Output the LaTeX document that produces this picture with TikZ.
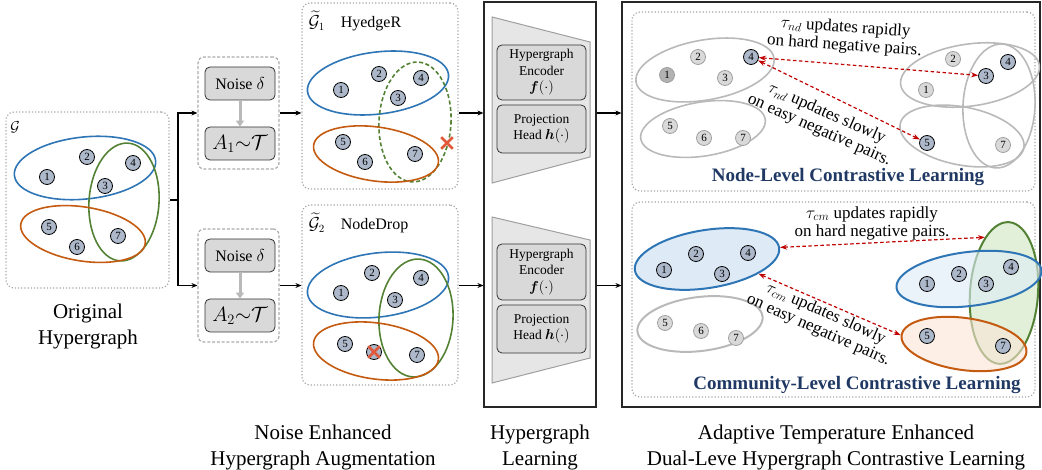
\documentclass[tikz,border=0pt]{standalone}
\usepackage{amsmath,amssymb}
\usepackage{fontspec}
\setmainfont{Liberation Serif}
\usetikzlibrary{arrows.meta,shapes.geometric,shapes.misc}
\definecolor{nb}{HTML}{ADB9CA}
\definecolor{eblue}{HTML}{2E75B6}
\definecolor{eorange}{HTML}{C55A11}
\definecolor{egreen}{HTML}{548235}
\definecolor{boxgray}{HTML}{D9D9D9}
\definecolor{trapf}{HTML}{E7E6E6}
\definecolor{navy}{HTML}{1F3864}
\definecolor{xred}{HTML}{E0593A}
\definecolor{arrred}{HTML}{C00000}
\definecolor{fblue}{HTML}{DEEBF7}
\definecolor{fgreen}{HTML}{E2F0D9}
\definecolor{forange}{HTML}{FBE5D6}
\begin{document}
\begin{tikzpicture}[x=1pt,y=-1pt,
  vn/.style={circle, draw=black, line width=0.8pt, fill=nb, inner sep=0pt, minimum size=15pt, font=\fontsize{11}{11}\selectfont},
  ln/.style={vn, draw=gray!75, fill=gray!30},
  dn/.style={vn, draw=gray!75, fill=gray!60},
  hyper/.style={ellipse, inner sep=0pt, line width=1.6pt},
  gh/.style={hyper, draw=gray!55},
  dotbox/.style={draw=gray!70, dotted, line width=1.2pt, rounded corners=8pt, inner sep=0pt},
  dashbox/.style={draw=gray!65, dash pattern=on 3pt off 1.8pt, line width=1.2pt, rounded corners=6pt, inner sep=0pt},
  ibox/.style={draw=black!80, fill=boxgray, rounded corners=5pt, line width=0.8pt, inner sep=0pt},
  solidbox/.style={draw=black!85, line width=1.2pt, inner sep=0pt},
  arr/.style={line width=1.4pt, -{Stealth[length=6pt,width=5pt]}},
  plainline/.style={line width=1.4pt},
  garr/.style={gray!55, line width=3pt, -{Triangle[length=6pt,width=8pt]}},
  rarr/.style={arrred, line width=1.2pt, dash pattern=on 3.5pt off 2.5pt, {Stealth[length=7pt,width=5pt]}-{Stealth[length=7pt,width=5pt]}},
  xm/.style={cross out, draw=xred, line width=2.6pt, minimum size=9pt, inner sep=0pt},
  captxt/.style={font=\fontsize{21}{26}\selectfont, align=center},
  notetxt/.style={font=\fontsize{17}{18}\selectfont, align=center, inner sep=0pt},
  ttl/.style={font=\fontsize{19}{22}\selectfont\bfseries, text=navy},
  innerbox/.style={ibox, font=\fontsize{13.5}{16.5}\selectfont, align=center, minimum width=89pt}
]
\useasboundingbox (0,0) rectangle (1042,470);

% ---------------- Original hypergraph
\node[dotbox, minimum width=163pt, minimum height=176pt] (obox) at (87.5,200) {};
\node[font=\fontsize{15}{15}\selectfont] (olab) at (15,127) {$\mathcal{G}$};
\node[hyper, draw=eblue, minimum width=142pt, minimum height=62pt, rotate=6] (oeb) at (85,168) {};
\node[hyper, draw=egreen, minimum width=70pt, minimum height=118pt, rotate=-4] (oeg) at (124,202) {};
\node[hyper, draw=eorange, minimum width=126pt, minimum height=54pt, rotate=-9] (oeo) at (83,234) {};
\node[vn] (o1) at (47,177) {1};
\node[vn] (o2) at (87,157) {2};
\node[vn] (o3) at (105,186) {3};
\node[vn] (o4) at (133,163) {4};
\node[vn] (o5) at (49,227) {5};
\node[vn] (o6) at (77,247) {6};
\node[vn] (o7) at (118,236) {7};
\node[captxt] (ocap) at (88,326) {Original\\Hypergraph};

% ---------------- Noise boxes
\node[dashbox, minimum width=81pt, minimum height=112pt] (nb1) at (238.5,113) {};
\node[ibox, minimum width=70pt, minimum height=33pt, font=\fontsize{16}{16}\selectfont] (ns1) at (240,83.5) {Noise $\delta$};
\node[ibox, minimum width=70pt, minimum height=33pt, font=\fontsize{20}{20}\selectfont] (a1) at (240,143.5) {$A_1{\sim}\mathcal{T}$};
\draw[garr] (ns1.south) -- (a1.north);
\node[dashbox, minimum width=81pt, minimum height=113pt] (nb2) at (238.5,285.5) {};
\node[ibox, minimum width=70pt, minimum height=33pt, font=\fontsize{16}{16}\selectfont] (ns2) at (240,255.5) {Noise $\delta$};
\node[ibox, minimum width=70pt, minimum height=33pt, font=\fontsize{20}{20}\selectfont] (a2) at (240,315.5) {$A_2{\sim}\mathcal{T}$};
\draw[garr] (ns2.south) -- (a2.north);
\node[captxt] (ncap) at (323,447) {Noise Enhanced\\Hypergraph Augmentation};

% fork
\coordinate (fk) at (178,200);
\draw[plainline] (obox.east) -- (fk);
\draw[arr] (fk) |- (nb1.west);
\draw[arr] (fk) |- (nb2.west);

% ---------------- G1
\node[dotbox, minimum width=156pt, minimum height=186pt] (g1) at (380,96) {};
\node[anchor=west, font=\fontsize{16}{16}\selectfont] (g1l) at (305,21) {$\widetilde{\mathcal{G}}_1$\quad HyedgeR};
\node[hyper, draw=eblue, minimum width=142pt, minimum height=62pt, rotate=7] (g1b) at (378,83) {};
\node[hyper, draw=egreen, dash pattern=on 4pt off 2.5pt, minimum width=72pt, minimum height=120pt, rotate=-3] (g1g) at (415,122) {};
\node[hyper, draw=eorange, minimum width=126pt, minimum height=54pt, rotate=-8] (g1o) at (376,154) {};
\node[vn] (a1n1) at (341,90) {1};
\node[vn] (a1n2) at (379,74) {2};
\node[vn] (a1n3) at (398,98) {3};
\node[vn] (a1n4) at (421,78) {4};
\node[vn] (a1n5) at (343,142) {5};
\node[vn] (a1n6) at (365,162) {6};
\node[vn] (a1n7) at (415,154) {7};
\node[xm] (x1) at (447,143) {};

% ---------------- G2
\node[dotbox, minimum width=156pt, minimum height=180pt] (g2) at (380,295) {};
\node[anchor=west, font=\fontsize{16}{16}\selectfont] (g2l) at (305,223) {$\widetilde{\mathcal{G}}_2$\quad NodeDrop};
\node[hyper, draw=eblue, minimum width=142pt, minimum height=64pt, rotate=7] (g2b) at (378,285) {};
\node[hyper, draw=egreen, minimum width=74pt, minimum height=118pt, rotate=-3] (g2g) at (416,318) {};
\node[hyper, draw=eorange, minimum width=126pt, minimum height=56pt, rotate=-8] (g2o) at (376,351) {};
\node[vn] (a2n1) at (341,293) {1};
\node[vn] (a2n2) at (372,273) {2};
\node[vn] (a2n3) at (395,300) {3};
\node[vn] (a2n4) at (421,278) {4};
\node[vn] (a2n5) at (345,344) {5};
\node[vn] (a2n6) at (374,352) {};
\node[vn] (a2n7) at (417,355) {7};
\node[xm] (x2) at (374,352) {};

\draw[arr] (nb1.east) -- (nb1.east -| g1.west);
\draw[arr] (nb2.east) -- (nb2.east -| g2.west);

% ---------------- Hypergraph learning
\node[solidbox, fill=white, minimum width=112pt, minimum height=405pt] (hl) at (540,204.5) {};
\draw[draw=gray!75, fill=trapf, line width=1pt] (492,17) -- (590,42) -- (590,157) -- (492,183) -- cycle;
\draw[draw=gray!75, fill=trapf, line width=1pt] (492,217) -- (590,240) -- (590,358) -- (492,383) -- cycle;
\node[innerbox, minimum height=55pt] (enc1) at (541.5,72.5) {Hypergraph\\Encoder\\$\boldsymbol{f}(\cdot)$};
\node[innerbox, minimum height=48pt] (prj1) at (541.5,129) {Projection\\Head $\boldsymbol{h}(\cdot)$};
\node[innerbox, minimum height=56pt] (enc2) at (541.5,272) {Hypergraph\\Encoder\\$\boldsymbol{f}(\cdot)$};
\node[innerbox, minimum height=48pt] (prj2) at (541.5,329) {Projection\\Head $\boldsymbol{h}(\cdot)$};
\node[captxt] (hcap) at (540,447) {Hypergraph\\Learning};

\draw[arr] (g1.east |- nb1.east) -- (hl.west |- nb1.east);
\draw[arr] (g2.east |- nb2.east) -- (hl.west |- nb2.east);

% ---------------- Right box
\node[solidbox, minimum width=418pt, minimum height=405pt] (rb) at (831,204.5) {};
\draw[arr] (hl.east |- nb1.east) -- (rb.west |- nb1.east);
\draw[arr] (hl.east |- nb2.east) -- (rb.west |- nb2.east);
\node[captxt] (rcap) at (836,447) {Adaptive Temperature Enhanced\\Dual-Leve Hypergraph Contrastive Learning};

% node-level
\node[dotbox, minimum width=403pt, minimum height=179pt] (ndb) at (833.5,101.5) {};
\node[gh, minimum width=140pt, minimum height=60pt, rotate=10] (nL1) at (705,70) {};
\node[gh, minimum width=126pt, minimum height=54pt, rotate=9] (nL2) at (703,129) {};
\node[gh, minimum width=140pt, minimum height=62pt, rotate=8] (nRA) at (970,75) {};
\node[gh, minimum width=72pt, minimum height=124pt, rotate=-3] (nRB) at (999,106) {};
\node[gh, minimum width=126pt, minimum height=58pt, rotate=-11] (nRC) at (962,136) {};
\node[dn] (nl1) at (667,75) {1};
\node[ln] (nl2) at (698,57) {2};
\node[ln] (nl3) at (725,78) {3};
\node[vn] (nl4) at (751,57) {4};
\node[ln] (nl5) at (670,126) {5};
\node[ln] (nl6) at (704,138) {6};
\node[ln] (nl7) at (743,138) {7};
\node[ln] (nr1) at (926,90) {1};
\node[ln] (nr2) at (953,59) {2};
\node[vn] (nr3) at (986,76) {3};
\node[vn] (nr4) at (1008,62) {4};
\node[vn] (nr5) at (927,143) {5};
\node[ln] (nr7) at (1003,145) {7};
\draw[rarr] (nl4) -- (nr3);
\draw[rarr] (nl4) -- (nr5);
\node[notetxt, rotate=-4] (t1) at (845,37) {$\tau_{nd}$ updates rapidly\\on hard negative pairs.};
\node[notetxt, rotate=-24] (t2) at (823,122) {$\tau_{nd}$ updates slowly\\on easy negative pairs.};
\node[ttl] (ndt) at (848,177) {Node-Level Contrastive Learning};

% community-level
\node[dotbox, minimum width=403pt, minimum height=195pt] (cmb) at (833.5,299.5) {};
\node[hyper, line width=2pt, draw=eblue, fill=fblue, minimum width=146pt, minimum height=58pt, rotate=9] (cbl) at (707,259) {};
\node[gh, line width=2pt, minimum width=126pt, minimum height=54pt, rotate=7] (cgl) at (700,324) {};
\node[hyper, line width=2pt, draw=egreen, fill=fgreen, minimum width=68pt, minimum height=142pt, rotate=-4] (cgr) at (1004,293) {};
\node[hyper, line width=2pt, draw=eblue, fill=fblue, fill opacity=0.6, minimum width=146pt, minimum height=54pt, rotate=7] (cbr) at (969,279) {};
\node[hyper, line width=2pt, draw=eorange, fill=forange, fill opacity=0.6, minimum width=126pt, minimum height=52pt, rotate=-8] (cor) at (964,344) {};
\node[vn] (cl1) at (664,270) {1};
\node[vn] (cl2) at (696,254) {2};
\node[vn] (cl3) at (722,274) {3};
\node[vn] (cl4) at (748,253) {4};
\node[ln] (cl5) at (665,323) {5};
\node[ln] (cl6) at (701,331) {6};
\node[ln] (cl7) at (736,338) {7};
\node[vn] (cr1) at (927,284) {1};
\node[vn] (cr2) at (959,274) {2};
\node[vn] (cr3) at (986,284) {3};
\node[vn] (cr4) at (1011,267) {4};
\node[vn] (cr5) at (927,336) {5};
\node[vn] (cr7) at (1003,346) {7};
\draw[rarr] (cbl.east) -- (cgr.113);
\draw[rarr] (cbl.-25) -- (cor.west);
\node[notetxt] (t3) at (872,223) {$\tau_{cm}$ updates rapidly\\on hard negative pairs.};
\node[notetxt, rotate=-24] (t4) at (822,322) {$\tau_{cm}$ updates slowly\\on easy negative pairs.};
\node[ttl] (cmt) at (857,385) {Community-Level Contrastive Learning};
\end{tikzpicture}
\end{document}
